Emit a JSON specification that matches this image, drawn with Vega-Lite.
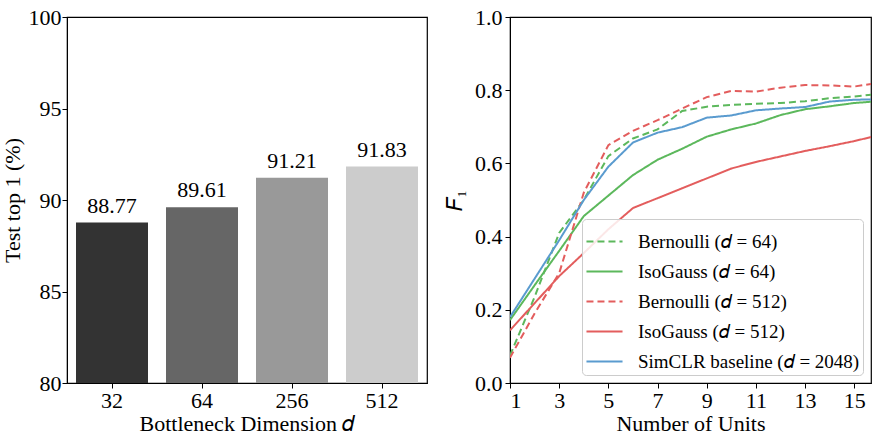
{
  "$schema": "https://vega.github.io/schema/vega-lite/v6.json",
  "background": "white",
  "padding": {"left": 0, "top": 5, "right": 0, "bottom": 0},
  "spacing": 14,
  "resolve": {
    "scale": {"color": "independent", "strokeDash": "independent", "x": "independent", "y": "independent"},
    "legend": {"color": "independent", "strokeDash": "independent"}
  },
  "config": {
    "font": "Liberation Serif",
    "view": {"stroke": "black", "strokeWidth": 1.2},
    "axis": {
      "labelFont": "Liberation Serif",
      "titleFont": "Liberation Serif",
      "labelFontSize": 22,
      "titleFontSize": 22,
      "titleFontWeight": "normal",
      "labelColor": "black",
      "titleColor": "black",
      "domainColor": "black",
      "tickColor": "black",
      "tickSize": 5,
      "labelPadding": 3,
      "grid": false
    },
    "legend": {
      "labelFont": "Liberation Serif",
      "labelFontSize": 19,
      "labelColor": "black",
      "labelLimit": 400
    }
  },
  "hconcat": [
    {
      "width": 360,
      "height": 366,
      "data": {
        "values": [
          {"d": "32", "acc": 88.77},
          {"d": "64", "acc": 89.61},
          {"d": "256", "acc": 91.21},
          {"d": "512", "acc": 91.83}
        ]
      },
      "encoding": {
        "x": {
          "field": "d",
          "type": "ordinal",
          "sort": null,
          "scale": {"paddingInner": 0.2, "paddingOuter": 0.1},
          "axis": {"labelAngle": 0, "title": "Bottleneck Dimension 𝑑", "titlePadding": 2, "labelPadding": 2}
        },
        "y": {
          "field": "acc",
          "type": "quantitative",
          "scale": {"domain": [80, 100], "nice": false, "zero": false},
          "axis": {"values": [80, 85, 90, 95, 100], "title": "Test top 1 (%)", "titlePadding": 4, "labelPadding": 1}
        }
      },
      "layer": [
        {
          "mark": {"type": "bar"},
          "encoding": {
            "y2": {"datum": 80},
            "color": {
              "field": "d",
              "type": "nominal",
              "sort": null,
              "scale": {"domain": ["32", "64", "256", "512"], "range": ["#333333", "#666666", "#999999", "#cccccc"]},
              "legend": null
            }
          }
        },
        {
          "mark": {"type": "text", "baseline": "bottom", "dy": -5, "fontSize": 22, "color": "black"},
          "encoding": {"text": {"field": "acc", "type": "quantitative", "format": ".2f"}}
        }
      ]
    },
    {
      "width": 361,
      "height": 366,
      "data": {
        "values": [
          {"u": 1, "f1": 0.075, "s": "Bernoulli (𝑑 = 64)"},
          {"u": 2, "f1": 0.235, "s": "Bernoulli (𝑑 = 64)"},
          {"u": 3, "f1": 0.41, "s": "Bernoulli (𝑑 = 64)"},
          {"u": 4, "f1": 0.5, "s": "Bernoulli (𝑑 = 64)"},
          {"u": 5, "f1": 0.62, "s": "Bernoulli (𝑑 = 64)"},
          {"u": 6, "f1": 0.668, "s": "Bernoulli (𝑑 = 64)"},
          {"u": 7, "f1": 0.693, "s": "Bernoulli (𝑑 = 64)"},
          {"u": 8, "f1": 0.743, "s": "Bernoulli (𝑑 = 64)"},
          {"u": 9, "f1": 0.755, "s": "Bernoulli (𝑑 = 64)"},
          {"u": 10, "f1": 0.76, "s": "Bernoulli (𝑑 = 64)"},
          {"u": 11, "f1": 0.763, "s": "Bernoulli (𝑑 = 64)"},
          {"u": 12, "f1": 0.765, "s": "Bernoulli (𝑑 = 64)"},
          {"u": 13, "f1": 0.77, "s": "Bernoulli (𝑑 = 64)"},
          {"u": 14, "f1": 0.778, "s": "Bernoulli (𝑑 = 64)"},
          {"u": 15, "f1": 0.783, "s": "Bernoulli (𝑑 = 64)"},
          {"u": 16, "f1": 0.79, "s": "Bernoulli (𝑑 = 64)"},
          {"u": 1, "f1": 0.172, "s": "IsoGauss (𝑑 = 64)"},
          {"u": 2, "f1": 0.267, "s": "IsoGauss (𝑑 = 64)"},
          {"u": 3, "f1": 0.361, "s": "IsoGauss (𝑑 = 64)"},
          {"u": 4, "f1": 0.456, "s": "IsoGauss (𝑑 = 64)"},
          {"u": 5, "f1": 0.512, "s": "IsoGauss (𝑑 = 64)"},
          {"u": 6, "f1": 0.568, "s": "IsoGauss (𝑑 = 64)"},
          {"u": 7, "f1": 0.61, "s": "IsoGauss (𝑑 = 64)"},
          {"u": 8, "f1": 0.64, "s": "IsoGauss (𝑑 = 64)"},
          {"u": 9, "f1": 0.673, "s": "IsoGauss (𝑑 = 64)"},
          {"u": 10, "f1": 0.693, "s": "IsoGauss (𝑑 = 64)"},
          {"u": 11, "f1": 0.709, "s": "IsoGauss (𝑑 = 64)"},
          {"u": 12, "f1": 0.732, "s": "IsoGauss (𝑑 = 64)"},
          {"u": 13, "f1": 0.748, "s": "IsoGauss (𝑑 = 64)"},
          {"u": 14, "f1": 0.756, "s": "IsoGauss (𝑑 = 64)"},
          {"u": 15, "f1": 0.765, "s": "IsoGauss (𝑑 = 64)"},
          {"u": 16, "f1": 0.77, "s": "IsoGauss (𝑑 = 64)"},
          {"u": 1, "f1": 0.069, "s": "Bernoulli (𝑑 = 512)"},
          {"u": 2, "f1": 0.19, "s": "Bernoulli (𝑑 = 512)"},
          {"u": 3, "f1": 0.3, "s": "Bernoulli (𝑑 = 512)"},
          {"u": 4, "f1": 0.52, "s": "Bernoulli (𝑑 = 512)"},
          {"u": 5, "f1": 0.65, "s": "Bernoulli (𝑑 = 512)"},
          {"u": 6, "f1": 0.689, "s": "Bernoulli (𝑑 = 512)"},
          {"u": 7, "f1": 0.718, "s": "Bernoulli (𝑑 = 512)"},
          {"u": 8, "f1": 0.75, "s": "Bernoulli (𝑑 = 512)"},
          {"u": 9, "f1": 0.781, "s": "Bernoulli (𝑑 = 512)"},
          {"u": 10, "f1": 0.798, "s": "Bernoulli (𝑑 = 512)"},
          {"u": 11, "f1": 0.796, "s": "Bernoulli (𝑑 = 512)"},
          {"u": 12, "f1": 0.807, "s": "Bernoulli (𝑑 = 512)"},
          {"u": 13, "f1": 0.814, "s": "Bernoulli (𝑑 = 512)"},
          {"u": 14, "f1": 0.813, "s": "Bernoulli (𝑑 = 512)"},
          {"u": 15, "f1": 0.81, "s": "Bernoulli (𝑑 = 512)"},
          {"u": 16, "f1": 0.82, "s": "Bernoulli (𝑑 = 512)"},
          {"u": 1, "f1": 0.144, "s": "IsoGauss (𝑑 = 512)"},
          {"u": 2, "f1": 0.218, "s": "IsoGauss (𝑑 = 512)"},
          {"u": 3, "f1": 0.292, "s": "IsoGauss (𝑑 = 512)"},
          {"u": 4, "f1": 0.355, "s": "IsoGauss (𝑑 = 512)"},
          {"u": 5, "f1": 0.42, "s": "IsoGauss (𝑑 = 512)"},
          {"u": 6, "f1": 0.478, "s": "IsoGauss (𝑑 = 512)"},
          {"u": 7, "f1": 0.505, "s": "IsoGauss (𝑑 = 512)"},
          {"u": 8, "f1": 0.532, "s": "IsoGauss (𝑑 = 512)"},
          {"u": 9, "f1": 0.559, "s": "IsoGauss (𝑑 = 512)"},
          {"u": 10, "f1": 0.586, "s": "IsoGauss (𝑑 = 512)"},
          {"u": 11, "f1": 0.604, "s": "IsoGauss (𝑑 = 512)"},
          {"u": 12, "f1": 0.619, "s": "IsoGauss (𝑑 = 512)"},
          {"u": 13, "f1": 0.634, "s": "IsoGauss (𝑑 = 512)"},
          {"u": 14, "f1": 0.647, "s": "IsoGauss (𝑑 = 512)"},
          {"u": 15, "f1": 0.661, "s": "IsoGauss (𝑑 = 512)"},
          {"u": 16, "f1": 0.677, "s": "IsoGauss (𝑑 = 512)"},
          {"u": 1, "f1": 0.18, "s": "SimCLR baseline (𝑑 = 2048)"},
          {"u": 2, "f1": 0.285, "s": "SimCLR baseline (𝑑 = 2048)"},
          {"u": 3, "f1": 0.39, "s": "SimCLR baseline (𝑑 = 2048)"},
          {"u": 4, "f1": 0.5, "s": "SimCLR baseline (𝑑 = 2048)"},
          {"u": 5, "f1": 0.591, "s": "SimCLR baseline (𝑑 = 2048)"},
          {"u": 6, "f1": 0.657, "s": "SimCLR baseline (𝑑 = 2048)"},
          {"u": 7, "f1": 0.684, "s": "SimCLR baseline (𝑑 = 2048)"},
          {"u": 8, "f1": 0.699, "s": "SimCLR baseline (𝑑 = 2048)"},
          {"u": 9, "f1": 0.725, "s": "SimCLR baseline (𝑑 = 2048)"},
          {"u": 10, "f1": 0.731, "s": "SimCLR baseline (𝑑 = 2048)"},
          {"u": 11, "f1": 0.745, "s": "SimCLR baseline (𝑑 = 2048)"},
          {"u": 12, "f1": 0.75, "s": "SimCLR baseline (𝑑 = 2048)"},
          {"u": 13, "f1": 0.754, "s": "SimCLR baseline (𝑑 = 2048)"},
          {"u": 14, "f1": 0.769, "s": "SimCLR baseline (𝑑 = 2048)"},
          {"u": 15, "f1": 0.774, "s": "SimCLR baseline (𝑑 = 2048)"},
          {"u": 16, "f1": 0.775, "s": "SimCLR baseline (𝑑 = 2048)"}
        ]
      },
      "mark": {"type": "line", "strokeWidth": 2, "clip": true},
      "encoding": {
        "x": {
          "field": "u",
          "type": "quantitative",
          "scale": {"domain": [1, 15.68], "nice": false, "zero": false},
          "axis": {"values": [1, 3, 5, 7, 9, 11, 13, 15], "title": "Number of Units", "titlePadding": 2, "labelPadding": 2}
        },
        "y": {
          "field": "f1",
          "type": "quantitative",
          "scale": {"domain": [0, 1], "nice": false},
          "axis": {"values": [0, 0.2, 0.4, 0.6, 0.8, 1.0], "format": ".1f", "title": "𝐹₁", "titlePadding": 8}
        },
        "color": {
          "field": "s",
          "type": "nominal",
          "sort": null,
          "scale": {
            "domain": ["Bernoulli (𝑑 = 64)", "IsoGauss (𝑑 = 64)", "Bernoulli (𝑑 = 512)", "IsoGauss (𝑑 = 512)", "SimCLR baseline (𝑑 = 2048)"],
            "range": ["#5cb85c", "#5cb85c", "#e35d5d", "#e35d5d", "#5a9bcf"]
          },
          "legend": {
            "title": null,
            "orient": "bottom-right",
            "offset": 8,
            "fillColor": "rgba(255,255,255,0.85)",
            "strokeColor": "#cccccc",
            "cornerRadius": 4,
            "padding": 3,
            "symbolType": "stroke",
            "symbolSize": 1300,
            "symbolStrokeWidth": 2,
            "rowPadding": -9.5,
            "labelOffset": 14
          }
        },
        "strokeDash": {
          "field": "s",
          "type": "nominal",
          "sort": null,
          "scale": {
            "domain": ["Bernoulli (𝑑 = 64)", "IsoGauss (𝑑 = 64)", "Bernoulli (𝑑 = 512)", "IsoGauss (𝑑 = 512)", "SimCLR baseline (𝑑 = 2048)"],
            "range": [[7, 4], [1, 0], [7, 4], [1, 0], [1, 0]]
          },
          "legend": {
            "title": null,
            "orient": "bottom-right",
            "offset": 8,
            "fillColor": "rgba(255,255,255,0.85)",
            "strokeColor": "#cccccc",
            "cornerRadius": 4,
            "padding": 3,
            "symbolType": "stroke",
            "symbolSize": 1300,
            "symbolStrokeWidth": 2,
            "rowPadding": -9.5,
            "labelOffset": 14
          }
        }
      }
    }
  ]
}
